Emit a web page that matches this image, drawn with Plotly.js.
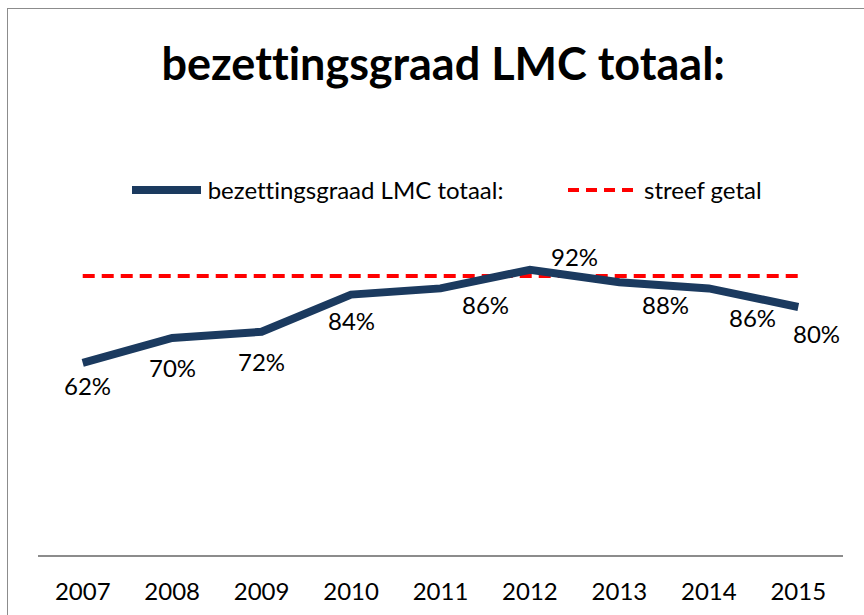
<!DOCTYPE html>
<html>
<head>
<meta charset="utf-8">
<script src="https://cdn.plot.ly/plotly-3.0.1.min.js"></script>
<style>
  html, body { margin: 0; padding: 0; background: #fff; overflow: hidden; }
  #chart { width: 864px; height: 615px; position: relative; }
  #chart text { font-variant-ligatures: none; font-feature-settings: "liga" 0, "clig" 0; }
  #frame { position: absolute; left: 7px; top: 8px; width: 900px; height: 700px;
           border: 1.5px solid #8c8c8c; pointer-events: none; z-index: 10; }
</style>
</head>
<body>
<div id="frame"></div>
<div id="chart"></div>
<script>
// ---- data ----
const years = ["2007", "2008", "2009", "2010", "2011", "2012", "2013", "2014", "2015"];
const occupancy = [62, 70, 72, 84, 86, 92, 88, 86, 80];
const target = [90, 90, 90, 90, 90, 90, 90, 90, 90];
const seriesName = "bezettingsgraad LMC totaal:";
const targetName = "streef getal";
const chartTitle = "bezettingsgraad LMC totaal:";

// ---- label placement (style, in px) ----
const labelDx = [5, 0, 0, 0, 45, 45, 46, 44, 18];
const labelDy = [-23, -29, -30, -26, -16, 13, -22, -29, -26];

const FONT = "Lato, 'Open Sans', sans-serif";
const navy = "#1b3a5f";
const red = "#ff0000";

const traces = [
  {
    x: years, y: target, type: "scatter", mode: "lines", name: targetName,
    line: { color: red, width: 4, dash: "12px,7px" }, hoverinfo: "skip"
  },
  {
    x: years, y: occupancy, type: "scatter", mode: "lines", name: seriesName,
    line: { color: navy, width: 8 }
  }
];

const annotations = occupancy.map((v, i) => ({
  x: i, y: v, xref: "x", yref: "y",
  text: v + "%", showarrow: false,
  xshift: labelDx[i], yshift: labelDy[i],
  font: { family: FONT, size: 24, color: "#000" }
}));

// custom legend (paper coordinates)
const L = 38, W = 805, B = 555, H = 310;
const px = p => (p - L) / W;
const py = p => (B - p) / H;

annotations.push(
  { xref: "paper", yref: "paper", x: px(206), y: py(190), xanchor: "left", yanchor: "middle",
    text: seriesName, showarrow: false, font: { family: FONT, size: 24, color: "#000" } },
  { xref: "paper", yref: "paper", x: px(642), y: py(190), xanchor: "left", yanchor: "middle",
    text: targetName, showarrow: false, font: { family: FONT, size: 24, color: "#000" } }
);

const shapes = [
  { type: "line", xref: "paper", yref: "paper", x0: px(132), x1: px(201), y0: py(190), y1: py(190),
    line: { color: navy, width: 8 } },
  { type: "line", xref: "paper", yref: "paper", x0: px(568), x1: px(634), y0: py(190), y1: py(190),
    line: { color: red, width: 4, dash: "11px,7px" } }
];

const layout = {
  width: 864, height: 615,
  margin: { l: 38, r: 21, t: 245, b: 60 },
  paper_bgcolor: "#fff", plot_bgcolor: "#fff",
  showlegend: false,
  title: {
    text: "<b>" + chartTitle + "</b>",
    font: { family: FONT, size: 45, color: "#000" },
    x: 0.513, xanchor: "center", y: 0.896, yanchor: "middle"
  },
  xaxis: {
    type: "category", range: [-0.5, 8.5],
    showgrid: false, zeroline: false,
    showline: true, linecolor: "#8c8c8c", linewidth: 2,
    ticks: "", ticklabelstandoff: 14,
    tickfont: { family: FONT, size: 24, color: "#000" }
  },
  yaxis: {
    range: [0, 100], visible: false, showgrid: false, zeroline: false, fixedrange: true
  },
  annotations: annotations,
  shapes: shapes
};

Plotly.newPlot("chart", traces, layout, { displayModeBar: false, staticPlot: true });
</script>
</body>
</html>
